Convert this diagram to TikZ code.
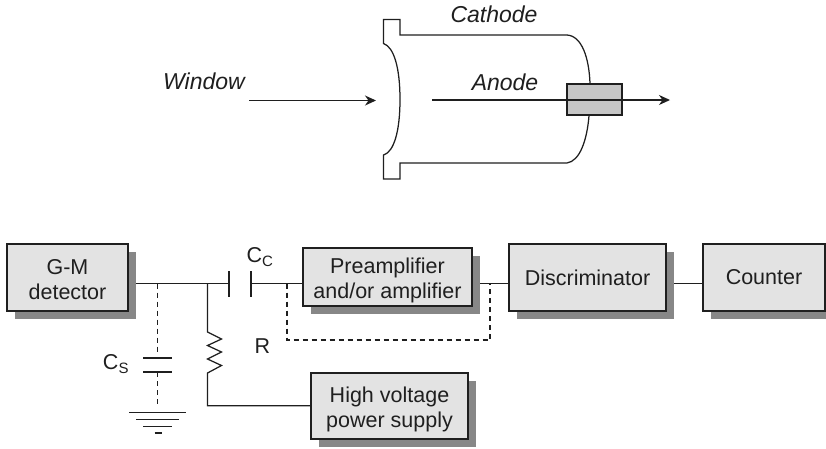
\documentclass[tikz,border=0pt]{standalone}
\usepackage{fontspec}
\setmainfont{Liberation Sans}
\usetikzlibrary{arrows.meta,backgrounds}
\definecolor{boxfill}{gray}{0.89}
\definecolor{boxshadow}{gray}{0.53}
\definecolor{ink}{gray}{0.12}
\tikzset{
  x=1pt,y=-1pt,
  wire/.style={draw=ink,line width=1.25pt},
  dashwire/.style={draw=ink,line width=1.25pt,dash pattern=on 5pt off 4pt},
  arrowwire/.style={wire,-{Stealth[length=11pt,width=10pt,inset=3.5pt]}},
  blockbox/.style={draw=ink,line width=1.5pt,fill=boxfill,inner sep=0pt,align=center,
    font=\fontsize{21.5}{24.5}\selectfont,text=ink,
    preaction={draw=none,fill=boxshadow,transform canvas={shift={(8pt,-8pt)}}}},
  plainlabel/.style={inner sep=0pt,font=\fontsize{21.5}{24}\selectfont,text=ink},
  italiclabel/.style={inner sep=0pt,font=\fontsize{23}{26}\selectfont\itshape,text=ink},
}
\newcommand{\lowidx}[1]{\textsubscript{\fontsize{15}{15}\selectfont #1}}
\newcommand{\topstrut}[1]{\rule{0pt}{#1}}
\begin{document}
\begin{tikzpicture}
\useasboundingbox (0,0) rectangle (826,448);
% Tube
\node[draw=ink,line width=1.5pt,fill=gray!45,minimum width=55pt,minimum height=31pt,inner sep=0pt] (anodebox) at (594.5,99.5) {};
\begin{scope}[on background layer]
\draw[wire] (anodebox.north -| 590,0) .. controls (589,58) and (582,36) .. (567,35) -- (400,35) -- (400,19.5) -- (383.5,19.5) -- (383.5,43.5)
  .. controls (394,47) and (400,68) .. (400,99.5) .. controls (400,131) and (394,152) .. (383.5,155)
  -- (383.5,179) -- (400,179) -- (400,163) -- (567,163) .. controls (580,161) and (587,140) .. (anodebox.south -| 589,0);
\end{scope}
\coordinate (winstart) at (249,100.5);
\coordinate (winend) at (376,100.5);
\coordinate (anstart) at (432,100);
\coordinate (anend) at (670,100);
\draw[arrowwire] (winstart) -- (winend);
\draw[arrowwire] (anstart) -- (anend);
\node[italiclabel] (lwindow) at (204,81) {Window};
\node[italiclabel] (lcathode) at (494,14.5) {Cathode};
\node[italiclabel] (lanode) at (505,82) {Anode};
% Blocks
\node[blockbox,minimum width=121pt,minimum height=67pt] (gm) at (67.5,277.5) {\topstrut{19.5pt}G-M\\detector};
\node[blockbox,minimum width=169pt,minimum height=58pt] (pre) at (387.5,277) {\topstrut{22.5pt}Preamplifier\\and/or amplifier};
\node[blockbox,minimum width=157pt,minimum height=67pt] (disc) at (587.5,277.5) {Discriminator};
\node[blockbox,minimum width=122pt,minimum height=67pt] (count) at (764,277.5) {Counter};
\node[blockbox,minimum width=157pt,minimum height=66pt] (hv) at (389.5,406) {\topstrut{22.5pt}High voltage\\power supply};
% Labels
\node[plainlabel] (lcc) at (260,257) {C\lowidx{C}};
\node[plainlabel] (lcs) at (116,364) {C\lowidx{S}};
\node[plainlabel] (lr) at (262.5,346) {R};
% Circuit points
\coordinate (gmout) at (136,283.5);
\coordinate (tapcs) at (157.5,283.5);
\coordinate (tapr) at (207.5,283.5);
\coordinate (ccl) at (229,283.5);
\coordinate (ccr) at (251,283.5);
\coordinate (tapl) at (287,283.5);
\coordinate (prein) at (304,283.5);
\coordinate (tapo) at (490,283.5);
\coordinate (csa) at (157.5,358);
\coordinate (csb) at (157.5,372);
\coordinate (gnd) at (157.5,412.5);
\begin{scope}[on background layer]
\draw[wire] (gmout) -- (ccl);
\draw[wire] (ccr) -- (prein);
\draw[wire] ([yshift=-6.5pt]pre.east) -- ([yshift=-6pt]disc.west);
\draw[wire] ([yshift=-6pt]disc.east) -- ([yshift=-6pt]count.west);
\draw[wire] (tapr) -- (207.5,332) -- (221.5,339) -- (207.5,345.5) -- (221.5,352) -- (207.5,359) -- (221.5,365.5) -- (207.5,373) -- (207.5,405.7) -- (hv.west |- 0,405.7);
\end{scope}
\draw[wire] (229,271) -- (229,297);
\draw[wire] (251,271) -- (251,297);
\draw[dashwire] (tapl) -- (287,340) -- (490,340) -- (tapo);
\draw[dashwire] (tapcs) -- (157.5,352);
\draw[wire] (143,358) -- (172,358);
\draw[wire] (143,372) -- (172,372);
\draw[dashwire] (csb) -- (157.5,406);
\draw[wire] (129,412.5) -- (186,412.5);
\draw[wire] (136,419.5) -- (179,419.5);
\draw[wire] (143,426.5) -- (172,426.5);
\draw[wire] (154.5,433) -- (161.5,433);
\end{tikzpicture}
\end{document}
